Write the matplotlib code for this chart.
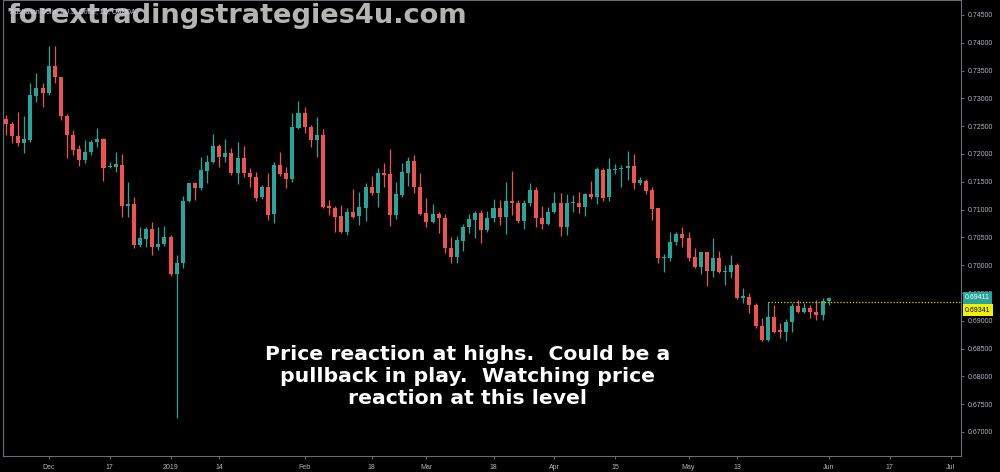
import matplotlib
matplotlib.use("Agg")
import matplotlib.pyplot as plt
import numpy as np
import pandas as pd

# --- daily AUD/USD candles (OANDA), 22 Nov 2018 .. 3 Jun 2019 ---
holidays = ["2018-12-25", "2019-01-01"]
first_day = "2018-11-22"
axis_end = "2019-07-05"

opens = [
    0.72630, 0.72534, 0.72324, 0.72203, 0.72252, 0.73049, 0.73182, 0.73092, 0.73583, 0.73380,
    0.72684, 0.72342, 0.72085, 0.71892, 0.72031, 0.72211, 0.72270, 0.71761, 0.71766, 0.71802,
    0.71070, 0.71095, 0.70363, 0.70471, 0.70651, 0.70322, 0.70376, 0.70502, 0.69842, 0.70034,
    0.71160, 0.71484, 0.71383, 0.71700, 0.71851, 0.72144, 0.71952, 0.72013, 0.71664, 0.71934,
    0.71664, 0.71592, 0.71221, 0.71412, 0.70916, 0.71802, 0.71653, 0.71551, 0.72473, 0.72732,
    0.72491, 0.72252, 0.72342, 0.71065, 0.71024, 0.70885, 0.70603, 0.70962, 0.70885, 0.71034,
    0.71401, 0.71293, 0.71653, 0.71640, 0.70903, 0.71263, 0.71664, 0.71880, 0.71401, 0.70934,
    0.70782, 0.70921, 0.70855, 0.70315, 0.70142, 0.70440, 0.70682, 0.70813, 0.70944, 0.70633,
    0.70844, 0.71034, 0.70872, 0.71160, 0.71124, 0.70795, 0.71113, 0.71347, 0.70844, 0.70741,
    0.70952, 0.71124, 0.70693, 0.71113, 0.71124, 0.71052, 0.71275, 0.71232, 0.71712, 0.71221,
    0.71712, 0.71725, 0.71754, 0.71784, 0.71484, 0.71520, 0.71353, 0.71024, 0.70135, 0.70135,
    0.70412, 0.70561, 0.70495, 0.70142, 0.69973, 0.70232, 0.69896, 0.70124, 0.69872, 0.69872,
    0.70004, 0.69405, 0.69423, 0.69284, 0.68907, 0.68655, 0.69063, 0.68835, 0.68793, 0.68984,
    0.69266, 0.69164, 0.69236, 0.69164, 0.69104, 0.69362,
]
highs = [
    0.72702, 0.72581, 0.72761, 0.72684, 0.73272, 0.73452, 0.73272, 0.73943, 0.73943, 0.73390,
    0.72720, 0.72432, 0.72162, 0.72252, 0.72252, 0.72462, 0.72283, 0.71862, 0.72031, 0.71995,
    0.71502, 0.71232, 0.70682, 0.70682, 0.70782, 0.70682, 0.70705, 0.70543, 0.70184, 0.71245,
    0.71484, 0.71502, 0.71941, 0.71982, 0.72355, 0.72180, 0.72265, 0.72103, 0.72221, 0.72144,
    0.71743, 0.71682, 0.71443, 0.71664, 0.71862, 0.72042, 0.71761, 0.72743, 0.72959, 0.72840,
    0.72522, 0.72660, 0.72444, 0.71173, 0.71065, 0.71083, 0.71024, 0.71365, 0.71322, 0.71484,
    0.71605, 0.71743, 0.71833, 0.72085, 0.71502, 0.71844, 0.71952, 0.71982, 0.71664, 0.71203,
    0.71101, 0.70962, 0.70921, 0.70513, 0.70531, 0.70741, 0.70921, 0.70980, 0.70993, 0.70975,
    0.71191, 0.71173, 0.71502, 0.71694, 0.71173, 0.71173, 0.71473, 0.71412, 0.71065, 0.71052,
    0.71311, 0.71293, 0.71275, 0.71263, 0.71322, 0.71293, 0.71520, 0.71761, 0.71743, 0.71923,
    0.71820, 0.71802, 0.72054, 0.72000, 0.71581, 0.71545, 0.71401, 0.71024, 0.70202, 0.70603,
    0.70592, 0.70693, 0.70603, 0.70304, 0.70243, 0.70243, 0.70484, 0.70261, 0.70004, 0.70184,
    0.70045, 0.69585, 0.69495, 0.69315, 0.69045, 0.69344, 0.69284, 0.68955, 0.69027, 0.69315,
    0.69374, 0.69315, 0.69284, 0.69374, 0.69405, 0.69423,
]
lows = [
    0.72342, 0.72193, 0.72144, 0.72013, 0.72221, 0.72941, 0.72851, 0.73061, 0.73272, 0.72612,
    0.71923, 0.71982, 0.71784, 0.71844, 0.71982, 0.72132, 0.71515, 0.71754, 0.71671, 0.70872,
    0.70872, 0.70304, 0.70333, 0.70333, 0.70184, 0.70274, 0.70345, 0.69806, 0.67252, 0.69944,
    0.71142, 0.71173, 0.71353, 0.71473, 0.71833, 0.71761, 0.71862, 0.71622, 0.71461, 0.71592,
    0.71412, 0.71160, 0.71185, 0.70813, 0.70765, 0.71610, 0.71383, 0.71502, 0.72444, 0.72373,
    0.72121, 0.71941, 0.71034, 0.70903, 0.70603, 0.70574, 0.70543, 0.70844, 0.70723, 0.70795,
    0.71263, 0.71042, 0.71412, 0.70705, 0.70826, 0.71232, 0.71425, 0.71293, 0.70903, 0.70693,
    0.70765, 0.70585, 0.70214, 0.70045, 0.70034, 0.70261, 0.70574, 0.70484, 0.70394, 0.70603,
    0.70782, 0.70723, 0.70561, 0.70903, 0.70754, 0.70646, 0.71065, 0.70682, 0.70646, 0.70723,
    0.70934, 0.70525, 0.70543, 0.70962, 0.70934, 0.70885, 0.71191, 0.71101, 0.71160, 0.71160,
    0.71635, 0.71401, 0.71533, 0.71365, 0.71443, 0.71281, 0.70813, 0.70045, 0.69883, 0.70076,
    0.70363, 0.70322, 0.70081, 0.69944, 0.69842, 0.69626, 0.69793, 0.69854, 0.69644, 0.69765,
    0.69387, 0.69315, 0.69135, 0.68865, 0.68642, 0.68642, 0.68775, 0.68685, 0.68642, 0.68804,
    0.69135, 0.69146, 0.69045, 0.69015, 0.69015, 0.69284,
]
closes = [
    0.72534, 0.72329, 0.72203, 0.72265, 0.73061, 0.73182, 0.73092, 0.73583, 0.73380, 0.72684,
    0.72342, 0.72072, 0.71892, 0.72031, 0.72211, 0.72270, 0.71754, 0.71784, 0.71815, 0.71070,
    0.71101, 0.70363, 0.70484, 0.70651, 0.70322, 0.70376, 0.70502, 0.69842, 0.70034, 0.71160,
    0.71473, 0.71383, 0.71712, 0.71851, 0.72144, 0.71952, 0.72013, 0.71664, 0.71934, 0.71664,
    0.71581, 0.71203, 0.71412, 0.70903, 0.71802, 0.71640, 0.71551, 0.72480, 0.72732, 0.72491,
    0.72252, 0.72342, 0.71052, 0.71024, 0.70872, 0.70603, 0.70962, 0.70872, 0.71052, 0.71401,
    0.71293, 0.71653, 0.71622, 0.70903, 0.71275, 0.71671, 0.71880, 0.71401, 0.70921, 0.70782,
    0.70921, 0.70844, 0.70304, 0.70142, 0.70453, 0.70693, 0.70826, 0.70944, 0.70633, 0.70855,
    0.71034, 0.70872, 0.71155, 0.71124, 0.70795, 0.71124, 0.71347, 0.70844, 0.70741, 0.70962,
    0.71124, 0.70693, 0.71124, 0.71142, 0.71042, 0.71275, 0.71232, 0.71725, 0.71203, 0.71725,
    0.71730, 0.71754, 0.71784, 0.71484, 0.71533, 0.71340, 0.71011, 0.70135, 0.70153, 0.70423,
    0.70561, 0.70484, 0.70124, 0.69973, 0.70232, 0.69896, 0.70124, 0.69872, 0.69896, 0.70004,
    0.69405, 0.69446, 0.69284, 0.68907, 0.68655, 0.69063, 0.68804, 0.68793, 0.68984, 0.69266,
    0.69164, 0.69236, 0.69164, 0.69104, 0.69362, 0.69411,
]

# horizontal level drawn from the 20 May high
level_price = 0.69341
level_start = "2019-05-20"

tick_dates = ["2018-12-03", "2018-12-17", "2019-01-02", "2019-01-14", "2019-02-01",
              "2019-02-18", "2019-03-01", "2019-03-18", "2019-04-01", "2019-04-15",
              "2019-05-01", "2019-05-13", "2019-06-03", "2019-06-17", "2019-07-01"]
tick_labels = ["Dec", "17", "2019", "14", "Feb", "18", "Mar", "18", "Apr", "15",
               "May", "13", "Jun", "17", "Jul"]
price_ticks = [0.670, 0.675, 0.680, 0.685, 0.690, 0.695, 0.700, 0.705,
               0.710, 0.715, 0.720, 0.725, 0.730, 0.735, 0.740, 0.745]

title = "Australian Dollar / U.S. Dollar, 1D, OANDA"
watermark = "forextradingstrategies4u.com"
note = ("Price reaction at highs.  Could be a\n"
        "pullback in play.  Watching price\n"
        "reaction at this level")

UP = "#26a69a"
DOWN = "#ef5350"
AXIS_TXT = "#b2b5be"

# trading-day axis (no weekends, holiday bars dropped)
days = pd.bdate_range(first_day, axis_end)
days = days[~days.isin(pd.to_datetime(holidays))]
pos = {d: i for i, d in enumerate(days)}

o = np.array(opens)
h = np.array(highs)
l = np.array(lows)
c = np.array(closes)
x = np.arange(len(o))
up = c >= o
cols = np.where(up, UP, DOWN)

fig = plt.figure(figsize=(10, 4.72), dpi=100, facecolor="black")
ax = fig.add_axes([0.003, 16 / 472, 0.958, 456 / 472])
ax.set_facecolor("black")

ax.vlines(x, l, h, colors=cols, linewidth=0.9, zorder=2)
body_lo = np.minimum(o, c)
body_h = np.maximum(np.abs(c - o), 0.00016)
ax.bar(x, body_h, bottom=body_lo, width=0.66, color=cols, linewidth=0, zorder=3)

# level line
ax.plot([pos[pd.Timestamp(level_start)], 200], [level_price, level_price],
        color="#d4d400", linestyle=(0, (1, 1.5)), linewidth=0.9, zorder=4)

ax.set_xlim(-0.49, -0.49 + 958 / 6.094)
ax.set_ylim(0.745 - 441 / 5560, 0.745 + 15 / 5560)

ax.set_xticks([pos[pd.Timestamp(d)] for d in tick_dates])
ax.set_xticklabels(tick_labels)
ax.yaxis.tick_right()
ax.set_yticks(price_ticks)
ax.set_yticklabels([f"{p:.5f}" for p in price_ticks])
ax.tick_params(axis="both", colors="#787b86", labelcolor=AXIS_TXT, labelsize=5,
               length=2.5, width=0.6)
ax.tick_params(axis="y", pad=2)
ax.tick_params(axis="x", pad=3.5)
for lab in ax.get_xticklabels() + ax.get_yticklabels():
    lab.set_family("Liberation Sans")

for side in ["left", "right", "bottom", "top"]:
    ax.spines[side].set_color("#6a6d78")
    ax.spines[side].set_linewidth(0.8)

# price labels on the scale
last = c[-1]
ax.annotate(f"{last:.5f}", xy=(1, last), xycoords=("axes fraction", "data"),
            xytext=(3, 0), textcoords="offset points", ha="left", va="center",
            fontsize=5, color="white", family="Liberation Sans", annotation_clip=False,
            bbox=dict(boxstyle="square,pad=0.35", fc=UP, ec="none"), zorder=10)
ax.annotate(f"{level_price:.5f}", xy=(1, level_price), xycoords=("axes fraction", "data"),
            xytext=(3, -6), textcoords="offset points", ha="left", va="center",
            fontsize=5, color="black", family="Liberation Sans", annotation_clip=False,
            bbox=dict(boxstyle="square,pad=0.35", fc="#f2f200", ec="none"), zorder=10)

# texts
fig.text(8 / 1000, 1 - 16 / 472, watermark, fontsize=19.6, fontweight="bold",
         color="#b4b4b4", family="DejaVu Sans", ha="left", va="center", zorder=5)
fig.text(10 / 1000, 1 - 12 / 472, title, fontsize=4.8, color="#d1d4dc",
         family="Liberation Sans", ha="left", va="center", zorder=6)
fig.text(468 / 1000, 1 - 376 / 472, note, fontsize=14.7, fontweight="bold",
         color="white", family="DejaVu Sans", ha="center", va="center",
         multialignment="center", linespacing=1.2, zorder=7)

fig.savefig("out.png", dpi=100, facecolor="black")
